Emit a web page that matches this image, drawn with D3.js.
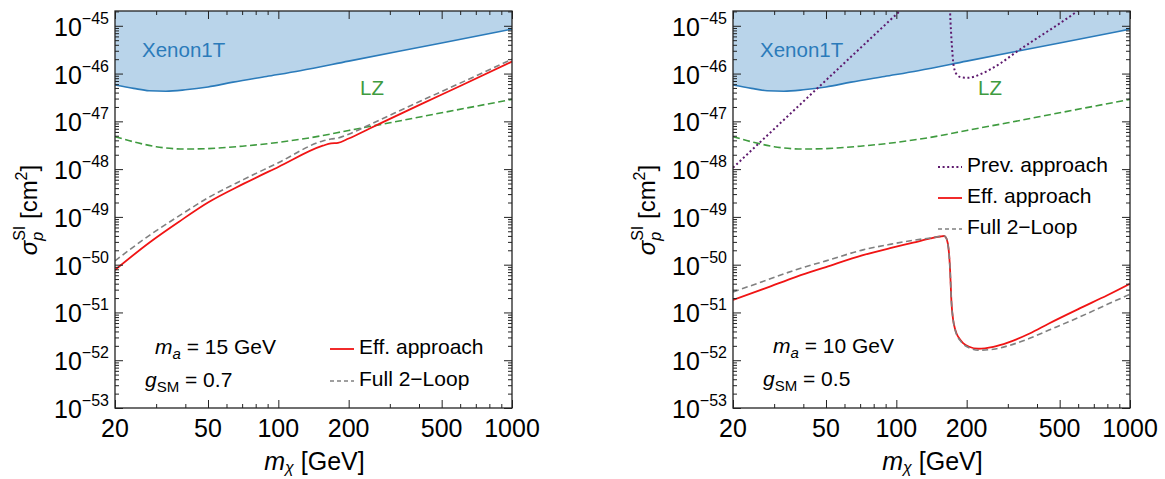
<!DOCTYPE html>
<html><head><meta charset="utf-8">
<script src="https://cdn.jsdelivr.net/npm/d3@7"></script>
<style>
body{margin:0;background:#fff}
svg{display:block}
text{font-family:"Liberation Sans",Arial,Helvetica,sans-serif;fill:#000}
</style>
</head><body>
<svg id="c" width="1165" height="479"></svg>
<script>
// ---------- data ----------
const xMajorTicks = [20, 50, 100, 200, 500, 1000];
const xMinorTicks = [30, 40, 60, 70, 80, 90, 300, 400, 600, 700, 800, 900];
const yDecadeExps = [-45, -46, -47, -48, -49, -50, -51, -52, -53];

const massXenon = [20, 24, 28, 33, 40, 50, 64, 89, 124, 200, 500, 1000];
const xenon1T  = [5.75e-47, 4.9e-47, 4.37e-47, 4.27e-47, 4.57e-47, 5.25e-47, 6.61e-47, 8.71e-47, 1.148e-46, 1.82e-46, 4.37e-46, 8.51e-46];

const massLZ = [20, 25, 30, 40, 50, 70, 100, 150, 200, 300, 500, 1000];
const lz     = [4.79e-48, 3.55e-48, 2.95e-48, 2.63e-48, 2.69e-48, 3.02e-48, 3.63e-48, 4.90e-48, 6.46e-48, 9.33e-48, 1.51e-47, 2.88e-47];

// left panel (m_a = 15 GeV, g_SM = 0.7)
const massLeft = [20, 28.2, 37.6, 50, 70.8, 100, 155, 168, 180, 200, 246, 400, 600, 1000];
const effLeft  = [7.76e-51, 2.95e-50, 7.94e-50, 2.00e-49, 4.90e-49, 1.11e-48, 3.09e-48, 3.47e-48, 3.55e-48, 4.37e-48, 7.08e-48, 2.19e-47, 5.50e-47, 1.78e-46];
const fullLeft = [1.20e-50, 4.17e-50, 1.05e-49, 2.51e-49, 6.03e-49, 1.36e-48, 3.89e-48, 4.27e-48, 4.47e-48, 5.37e-48, 8.51e-48, 2.57e-47, 6.31e-47, 2.00e-46];

// right panel (m_a = 10 GeV, g_SM = 0.5)
const massRight = [20, 28, 37.5, 50, 72, 95, 118, 140, 154, 160, 163, 166, 168, 170, 172, 175, 178, 181, 187, 193, 205, 224, 260, 300, 372, 450, 612, 800, 1000];
const effRight  = [1.82e-51, 3.31e-51, 5.62e-51, 8.91e-51, 1.58e-50, 2.24e-50, 2.88e-50, 3.55e-50, 3.89e-50, 3.98e-50, 3.72e-50, 2.82e-50, 1.78e-50, 7.08e-51, 1.78e-51, 7.08e-52, 4.68e-52, 3.63e-52, 2.75e-52, 2.29e-52, 1.91e-52, 1.74e-52, 1.91e-52, 2.34e-52, 3.63e-52, 5.89e-52, 1.23e-51, 2.29e-51, 3.98e-51];
const fullRight = [2.69e-51, 4.79e-51, 7.94e-51, 1.20e-50, 2.04e-50, 2.69e-50, 3.24e-50, 3.63e-50, 3.89e-50, 3.98e-50, 3.72e-50, 2.82e-50, 1.78e-50, 7.08e-51, 1.78e-51, 7.08e-52, 4.57e-52, 3.47e-52, 2.63e-52, 2.19e-52, 1.82e-52, 1.62e-52, 1.70e-52, 2.00e-52, 2.88e-52, 4.27e-52, 8.13e-52, 1.48e-51, 2.40e-51];

const massPrevA = [20, 30, 45, 70, 110];
const prevA     = [1.07e-48, 6.92e-48, 4.47e-47, 3.39e-46, 2.69e-45];
const massPrevB = [169, 170.5, 172, 173.5, 175, 178, 183, 190, 203, 230, 280, 328, 400, 500, 600, 650];
const prevB     = [3.55e-45, 1.26e-45, 5.62e-46, 3.02e-46, 1.78e-46, 1.15e-46, 9.12e-47, 8.32e-47, 8.13e-47, 9.77e-47, 1.66e-46, 2.88e-46, 5.50e-46, 1.12e-45, 2.09e-45, 2.82e-45];

// ---------- style ----------
const C = {
  xenon: "#2b7bba", xenonFill: "#b9d4ea", lz: "#3f9b3f",
  eff: "#f01414", full: "#808080", prev: "#5e1a6e", frame: "#222"
};
const FONT = 25;

const svg = d3.select("#c");
const W = 397, H = 397, TOP = 11;

function panel(x0, id, cfg) {
  const x = d3.scaleLog().domain([20, 1000]).range([x0, x0 + W]);
  const y = d3.scaleLog().domain([1e-53, 2.04e-45]).range([TOP + H, TOP]);
  const g = svg.append("g");

  svg.append("clipPath").attr("id", "clip" + id)
    .append("rect").attr("x", x0).attr("y", TOP).attr("width", W).attr("height", H);
  const plot = g.append("g").attr("clip-path", `url(#clip${id})`);

  const pts = (xs, ys) => xs.map((m, i) => [m, ys[i]]);
  const line = d3.line().x(d => x(d[0])).y(d => y(d[1])).curve(d3.curveMonotoneX);

  // Xenon1T excluded region
  plot.append("path")
    .datum(pts(massXenon, xenon1T))
    .attr("d", d3.area().x(d => x(d[0])).y0(TOP).y1(d => y(d[1])).curve(d3.curveMonotoneX))
    .attr("fill", C.xenonFill);
  plot.append("path").datum(pts(massXenon, xenon1T)).attr("d", line)
    .attr("fill", "none").attr("stroke", C.xenon).attr("stroke-width", 1.6);
  // LZ
  plot.append("path").datum(pts(massLZ, lz)).attr("d", line)
    .attr("fill", "none").attr("stroke", C.lz).attr("stroke-width", 1.6).attr("stroke-dasharray", "7,3.5");

  if (cfg.prev) {
    [pts(massPrevA, prevA), pts(massPrevB, prevB)].forEach(p => {
      plot.append("path").datum(p).attr("d", line)
        .attr("fill", "none").attr("stroke", C.prev).attr("stroke-width", 2).attr("stroke-dasharray", "2,2.6");
    });
  }
  plot.append("path").datum(pts(cfg.mass, cfg.eff)).attr("d", line)
    .attr("fill", "none").attr("stroke", C.eff).attr("stroke-width", 1.8);
  plot.append("path").datum(pts(cfg.mass, cfg.full)).attr("d", line)
    .attr("fill", "none").attr("stroke", C.full).attr("stroke-width", 1.6).attr("stroke-dasharray", "6,3.5");

  // ticks (inward on all sides)
  const tickAxis = (axisFn, scale, vals, size, tx, ty) => {
    const a = g.append("g").attr("transform", `translate(${tx},${ty})`)
      .call(axisFn(scale).tickValues(vals).tickSize(size).tickFormat(""));
    a.select(".domain").remove();
    a.selectAll("line").attr("stroke", C.frame).attr("stroke-width", 1);
  };
  tickAxis(d3.axisBottom, x, xMajorTicks, -8, 0, TOP + H);
  tickAxis(d3.axisBottom, x, xMinorTicks, -4, 0, TOP + H);
  tickAxis(d3.axisTop, x, xMajorTicks, -8, 0, TOP);
  tickAxis(d3.axisTop, x, xMinorTicks, -4, 0, TOP);

  const yMajor = yDecadeExps.map(e => Math.pow(10, e));
  const yMinor = [];
  yDecadeExps.forEach(e => { for (let k = 2; k <= 9; k++) { const v = k * Math.pow(10, e); if (v <= 2.04e-45) yMinor.push(v); } });
  tickAxis(d3.axisLeft, y, yMajor, -8, x0, 0);
  tickAxis(d3.axisLeft, y, yMinor, -4, x0, 0);
  tickAxis(d3.axisRight, y, yMajor, -8, x0 + W, 0);
  tickAxis(d3.axisRight, y, yMinor, -4, x0 + W, 0);

  // frame
  g.append("rect").attr("x", x0).attr("y", TOP).attr("width", W).attr("height", H)
    .attr("fill", "none").attr("stroke", C.frame).attr("stroke-width", 1.3);

  // y tick labels
  yDecadeExps.forEach(e => {
    const t = g.append("text").attr("x", x0 - 6).attr("y", y(Math.pow(10, e)) + 10)
      .attr("text-anchor", "end").attr("font-size", FONT);
    t.append("tspan").text("10");
    t.append("tspan").attr("font-size", 16).attr("dy", -12).text("\u2212" + Math.abs(e));
  });
  // x tick labels
  xMajorTicks.forEach(v => {
    g.append("text").attr("x", x(v)).attr("y", 437).attr("text-anchor", "middle")
      .attr("font-size", FONT).text(v);
  });
  // x title
  const xt = g.append("text").attr("x", x0 + W / 2 + 1).attr("y", 470)
    .attr("text-anchor", "middle").attr("font-size", FONT);
  xt.append("tspan").attr("font-style", "italic").text("m");
  xt.append("tspan").attr("font-style", "italic").attr("font-size", 16).attr("dy", 3).text("\u03c7");
  xt.append("tspan").attr("dy", -3).text(" [GeV]");
  // y title
  const yt = g.append("text").attr("transform", `translate(${x0 - 78},210) rotate(-90)`)
    .attr("text-anchor", "middle").attr("font-size", 24);
  yt.append("tspan").attr("font-style", "italic").text("\u03c3");
  yt.append("tspan").attr("font-style", "italic").attr("font-size", 16).attr("dy", 6).text("p");
  yt.append("tspan").attr("font-size", 16).attr("dx", -9).attr("dy", -18).text("SI");
  yt.append("tspan").attr("dy", 12).text(" [cm");
  yt.append("tspan").attr("font-size", 16).attr("dy", -10).text("2");
  yt.append("tspan").attr("dy", 10).text("]");

  // region labels
  g.append("text").attr("x", x0 + 27).attr("y", 57).attr("font-size", 20.5)
    .style("fill", C.xenon).text("Xenon1T");
  g.append("text").attr("x", x0 + cfg.lzX).attr("y", 95).attr("font-size", 20.5)
    .style("fill", C.lz).text("LZ");

  // annotations
  const a1 = g.append("text").attr("x", x0 + cfg.maX).attr("y", cfg.maY).attr("font-size", 21);
  a1.append("tspan").attr("font-style", "italic").text("m");
  a1.append("tspan").attr("font-style", "italic").attr("font-size", 15).attr("dy", 5).text("a");
  a1.append("tspan").attr("dy", -5).text(" = " + cfg.ma + " GeV");
  const a2 = g.append("text").attr("x", x0 + cfg.gX).attr("y", cfg.maY + 33).attr("font-size", 21);
  a2.append("tspan").attr("font-style", "italic").text("g");
  a2.append("tspan").attr("font-size", 15).attr("dy", 5).text("SM");
  a2.append("tspan").attr("dy", -5).text(" = " + cfg.g);

  // legend
  cfg.legend.forEach((L, i) => {
    const yy = cfg.legY + i * cfg.legDy;
    g.append("line").attr("x1", x0 + cfg.legX).attr("x2", x0 + cfg.legX + 24)
      .attr("y1", yy - 5).attr("y2", yy - 5)
      .attr("stroke", L.color).attr("stroke-width", L.w).attr("stroke-dasharray", L.dash || null);
    g.append("text").attr("x", x0 + cfg.legX + 29).attr("y", yy).attr("font-size", 21).text(L.label);
  });
}

panel(115, "L", {
  mass: massLeft, eff: effLeft, full: fullLeft, prev: false,
  lzX: 245, maX: 40, gX: 30, maY: 354, ma: "15", g: "0.7",
  legX: 215, legY: 354, legDy: 32,
  legend: [
    {label: "Eff. approach", color: C.eff, w: 1.8},
    {label: "Full 2\u2212Loop", color: C.full, w: 1.6, dash: "4,3"}
  ]
});
panel(733, "R", {
  mass: massRight, eff: effRight, full: fullRight, prev: true,
  lzX: 245, maX: 40, gX: 30, maY: 353, ma: "10", g: "0.5",
  legX: 205, legY: 172, legDy: 31,
  legend: [
    {label: "Prev. approach", color: C.prev, w: 2, dash: "2,2.6"},
    {label: "Eff. approach", color: C.eff, w: 1.8},
    {label: "Full 2\u2212Loop", color: C.full, w: 1.6, dash: "4,3"}
  ]
});
</script>
</body></html>
